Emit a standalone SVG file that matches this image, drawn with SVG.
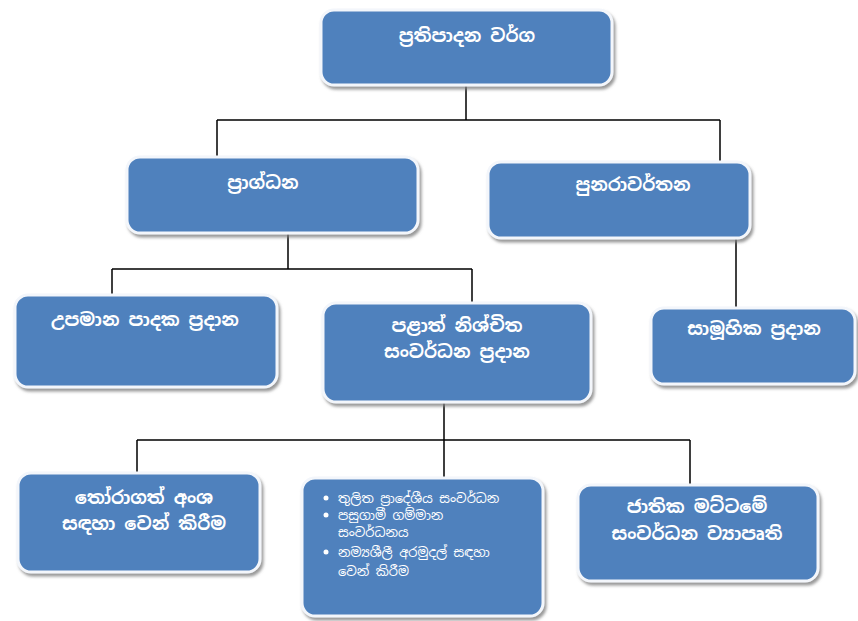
<svg xmlns="http://www.w3.org/2000/svg" width="858" height="621" viewBox="0 0 858 621">
<defs>
<filter id="sh" x="-10%" y="-10%" width="125%" height="130%">
<feGaussianBlur in="SourceAlpha" stdDeviation="1.5"/>
<feOffset dx="2" dy="3" result="o"/>
<feFlood flood-color="#7f7f7f" flood-opacity="0.8"/>
<feComposite in2="o" operator="in"/>
<feMerge><feMergeNode/><feMergeNode in="SourceGraphic"/></feMerge>
</filter>
</defs>
<style>
.box{fill:#4f81bd;stroke:#f3f6fb;stroke-width:3;filter:url(#sh)}
.t{font-family:"Noto Sans Sinhala","Iskoola Pota","Noto Sans",sans-serif;fill:#ffffff;text-anchor:middle;font-size:18px;font-weight:bold}
.tl{font-family:"Noto Sans Sinhala","Iskoola Pota","Noto Sans",sans-serif;fill:#ffffff;font-size:13px}
.c{stroke:#000000;stroke-width:1.5;fill:none}
</style>
<rect width="858" height="621" fill="#ffffff"/>
<g id="connectors">
<path class="c" d="M466 86 V120 M217 120 H720 M217 120 V157 M720 120 V162"/>
<path class="c" d="M288 233 V269 M112 269 H472 M112 269 V295 M472 269 V303"/>
<path class="c" d="M736 238 V308"/>
<path class="c" d="M444 403 V440 M137 440 H690 M137 440 V473 M444 440 V478 M690 440 V485"/>
</g>
<g id="n1"><rect class="box" x="321" y="10" width="291" height="75" rx="13"/><text class="t" x="467" y="42" font-size="22">ප්‍රතිපාදන වර්ග</text></g>
<g id="n2"><rect class="box" x="127" y="157" width="291" height="76" rx="13"/><text class="t" x="263" y="189">ප්‍රාග්ධන</text></g>
<g id="n3"><rect class="box" x="488" y="162" width="262" height="76" rx="13"/><text class="t" x="633" y="191">පුනරාවර්තන</text></g>
<g id="n4"><rect class="box" x="15" y="295" width="262" height="92" rx="13"/><text class="t" x="145" y="326">උපමාන පාදක ප්‍රදාන</text></g>
<g id="n5"><rect class="box" x="323" y="303" width="268" height="99" rx="13"/><text class="t" x="457" y="332">පළාත් නිශ්චිත</text><text class="t" x="457" y="358">සංවර්ධන ප්‍රදාන</text></g>
<g id="n6"><rect class="box" x="651" y="308" width="204" height="76" rx="13"/><text class="t" x="754" y="335">සාමූහික ප්‍රදාන</text></g>
<g id="n7"><rect class="box" x="18" y="473" width="242" height="99" rx="13"/><text class="t" x="144" y="504">තෝරාගත් අංශ</text><text class="t" x="144" y="530">සඳහා වෙන් කිරීම</text></g>
<g id="n8"><rect class="box" x="302" y="478" width="241" height="138" rx="13"/>
<circle cx="326" cy="498" r="2.5" fill="#ffffff"/><text class="tl" x="338" y="503">තුලිත ප්‍රාදේශීය සංවර්ධන</text>
<circle cx="326" cy="515" r="2.5" fill="#ffffff"/><text class="tl" x="338" y="520">පසුගාමී ගම්මාන</text>
<text class="tl" x="338" y="537">සංවර්ධනය</text>
<circle cx="326" cy="552" r="2.5" fill="#ffffff"/><text class="tl" x="338" y="557">නම්‍යශීලී අරමුදල් සඳහා</text>
<text class="tl" x="338" y="576">වෙන් කිරීම</text></g>
<g id="n9"><rect class="box" x="578" y="485" width="240" height="96" rx="13"/><text class="t" x="697" y="513">ජාතික මට්ටමේ</text><text class="t" x="697" y="540">සංවර්ධන ව්‍යාපෘති</text></g>
</svg>
